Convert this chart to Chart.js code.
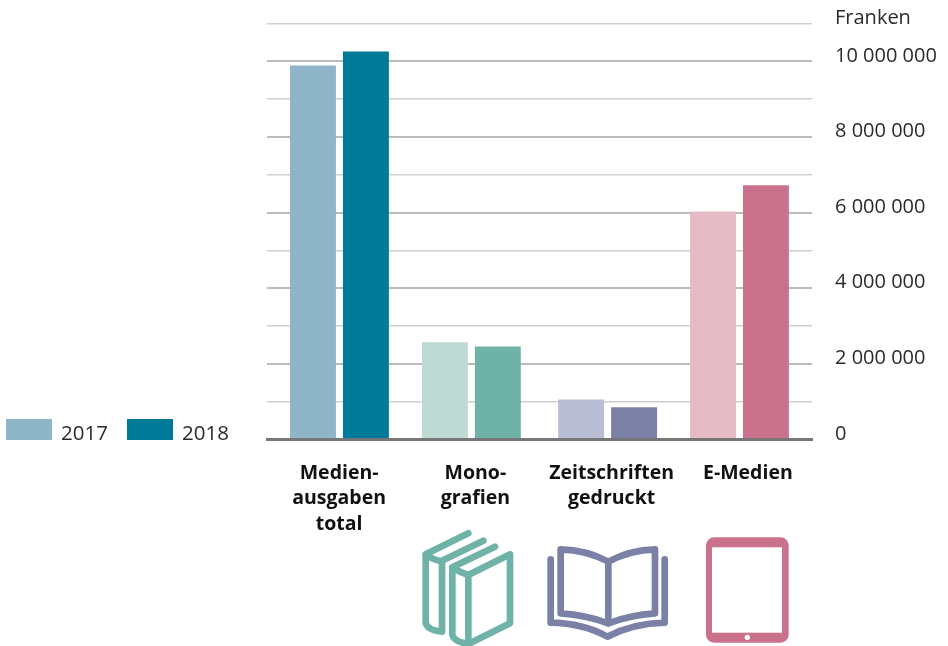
<!DOCTYPE html>
<html lang="de">
<head>
<meta charset="utf-8">
<title>Medienausgaben</title>
<script src="https://cdn.jsdelivr.net/npm/chart.js@4"></script>
<style>
    body { margin: 0; background: #fff; font-family: "Open Sans", sans-serif; color: #2b2b2b; }
    #wrap { position: relative; width: 948px; height: 646px; overflow: hidden; }
    #myChart { position: absolute; left: 0; top: 0; }
    .swatch { position: absolute; top: 419px; width: 46px; height: 21px; }
    .legend-text { position: absolute; top: 418px; font-size: 20.5px; line-height: 28px; }
    #icons { position: absolute; left: 410px; top: 520px; }
</style>
</head>
<body>
<div id="wrap">
    <canvas id="myChart" width="948" height="646"></canvas>
    <div id="legend"></div>
    <svg id="icons" width="400" height="126" viewBox="0 0 1200 378" fill="none" stroke-width="20" stroke-linecap="round" stroke-linejoin="round">
        <g stroke="#6fb3a8">
            <path d="M175 40 L47 103 L47 308 Q50 330 96 335 L96 125 Q60 115 47 103"/>
            <path d="M96 122 L220 62"/>
            <path d="M255 80 L127 142 L127 345 Q132 365 175 372 L300 310 L300 103 L175 165 L175 372"/>
            <path d="M127 142 Q150 158 175 165"/>
        </g>
        <g stroke="#7b80a6">
            <path d="M595 125 Q530 90 452 88 L452 280 Q530 285 595 310 Q660 285 735 280 L735 88 Q660 90 595 125 Z"/>
            <path d="M595 125 L595 310"/>
            <path d="M422 118 L422 308 Q520 310 592 350 Q670 310 764 308 L764 118"/>
        </g>
        <rect x="888" y="52" width="248" height="316" rx="24" fill="#ca728c"/>
        <rect x="906" y="82" width="210" height="256" fill="#fff"/>
        <circle cx="1012" cy="352" r="8" fill="#fff"/>
    </svg>
</div>
<script>
const categories = [["Medien-", "ausgaben", "total"], ["Mono-", "grafien"], ["Zeitschriften", "gedruckt"], "E-Medien"];
const years = ["2017", "2018"];
const values2017 = [9890000, 2570000, 1060000, 6030000];
const values2018 = [10260000, 2460000, 850000, 6720000];
const colors2017 = ["#8fb5c8", "#bfd9d5", "#b8bdd4", "#e5bbc6"];
const colors2018 = ["#007a99", "#6fb3a8", "#7b80a6", "#ca728c"];
const legendColors = ["#8fb5c8", "#007a99"];
const yAxisMax = 11000000;
const yAxisStep = 1000000;
const yAxisTitle = "Franken";

// the groups in the reference are not evenly spaced, and the labels sit apart from the bars
const barShift = [4.3, 0, 0, -4.4];
const labelShift = 4;

class ShiftedCategoryScale extends Chart.CategoryScale {
    getPixelForValue(value, index) {
        const shift = barShift[Math.round(value)] || 0;
        return super.getPixelForValue(value, index) + shift;
    }
    getPixelForTick(index) {
        return Chart.CategoryScale.prototype.getPixelForValue.call(this, this.ticks[index].value) + labelShift;
    }
}
ShiftedCategoryScale.id = "shiftedCategory";
ShiftedCategoryScale.defaults = Chart.CategoryScale.defaults;
Chart.register(ShiftedCategoryScale);

function formatTick(value) {
    if (value === yAxisMax) {
        return [yAxisTitle, ""];
    }
    if (value % 2000000 !== 0) {
        return "";
    }
    // second empty line lifts the label above its grid line
    return [String(value).replace(/\B(?=(\d{3})+$)/g, " "), ""];
}

function isMajor(value) {
    return value % 2000000 === 0;
}

function makeLegend() {
    const legend = document.getElementById("legend");
    const swatchLeft = [6, 127];
    const textLeft = [61, 182];
    years.forEach((year, i) => {
        const swatch = document.createElement("div");
        swatch.className = "swatch";
        swatch.style.left = swatchLeft[i] + "px";
        swatch.style.background = legendColors[i];
        legend.appendChild(swatch);
        const text = document.createElement("div");
        text.className = "legend-text";
        text.style.left = textLeft[i] + "px";
        text.textContent = year;
        legend.appendChild(text);
    });
}

makeLegend();

new Chart("myChart", {
    type: "bar",
    data: {
        labels: categories,
        datasets: [
            { label: years[0], data: values2017, backgroundColor: colors2017 },
            { label: years[1], data: values2018, backgroundColor: colors2018 }
        ]
    },
    options: {
        responsive: false,
        animation: false,
        categoryPercentage: 0.803,
        barPercentage: 0.868,
        layout: { padding: { left: 267, top: 23.5, right: 0, bottom: 0 } },
        plugins: { legend: { display: false }, tooltip: { enabled: false } },
        scales: {
            x: {
                type: "shiftedCategory",
                offset: true,
                grid: { display: false },
                border: { color: "#777", width: 3, z: 1 },
                ticks: {
                    autoSkip: false,
                    maxRotation: 0,
                    padding: 13,
                    color: "#111",
                    font: { family: "'Open Sans', sans-serif", size: 19.5, weight: "bold", lineHeight: "25.5px" }
                },
                afterFit: (scale) => { scale.height = 206.5; }
            },
            y: {
                position: "right",
                min: 0,
                max: yAxisMax,
                border: { display: false },
                grid: {
                    drawTicks: false,
                    color: (ctx) => (isMajor(ctx.tick.value) ? "#bcbcbc" : "#cfcfcf"),
                    lineWidth: (ctx) => (isMajor(ctx.tick.value) ? 2 : 1.5)
                },
                ticks: {
                    stepSize: yAxisStep,
                    autoSkip: false,
                    padding: 23,
                    color: "#2b2b2b",
                    font: { family: "'Open Sans', sans-serif", size: 20, lineHeight: "11px" },
                    callback: formatTick
                },
                afterFit: (scale) => {
                    scale.width = 136;
                    scale.paddingTop = 0;
                    scale.paddingBottom = 0;
                }
            }
        }
    }
});
</script>
</body>
</html>
